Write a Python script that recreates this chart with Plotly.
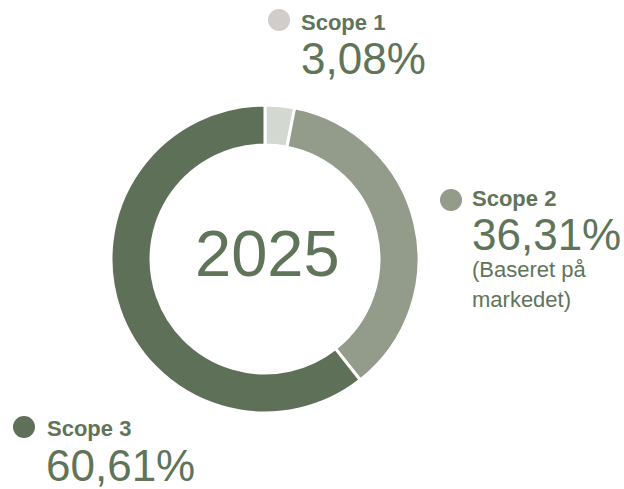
import plotly.graph_objects as go

W, H = 624, 489

labels = ["Scope 1", "Scope 2", "Scope 3"]
values = [3.08, 36.31, 60.61]
pct_text = ["3,08%", "36,31%", "60,61%"]
slice_colors = ["#d3d8d0", "#939b8b", "#5f7058"]
dot_colors = ["#d0cdcb", "#939b8b", "#5f7058"]
center_text = "2025"
note_lines = ["(Baseret på", "markedet)"]

TXT = "#5f7459"
FONT = "Arial, Liberation Sans, sans-serif"

cx, cy, R = 265, 259, 154

def px(x):
    return x / W

def py(y):
    return 1 - y / H

fig = go.Figure(go.Pie(
    labels=labels, values=values, sort=False, direction="clockwise", rotation=0,
    hole=0.74, textinfo="none", hoverinfo="label+percent",
    marker=dict(colors=slice_colors, line=dict(color="white", width=3)),
    domain=dict(x=[px(cx - R), px(cx + R)], y=[py(cy + R), py(cy - R)]),
    showlegend=False,
))

label_pos = [
    dict(dot=(279, 20), name=(299, 22), pct=(299, 58)),
    dict(dot=(451, 200), name=(470, 199), pct=(470, 235)),
    dict(dot=(24, 427), name=(45, 428), pct=(44, 465)),
]

ann = []
shapes = []
for i, p in enumerate(label_pos):
    dx, dy = p["dot"]
    r = 11
    shapes.append(dict(type="circle", xref="paper", yref="paper",
                       x0=px(dx - r), x1=px(dx + r), y0=py(dy + r), y1=py(dy - r),
                       fillcolor=dot_colors[i], line=dict(width=0)))
    ann.append(dict(x=px(p["name"][0]), y=py(p["name"][1]), xref="paper", yref="paper",
                    xanchor="left", yanchor="middle", showarrow=False,
                    text="<b>" + labels[i] + "</b>",
                    font=dict(family=FONT, size=22, color=TXT)))
    ann.append(dict(x=px(p["pct"][0]), y=py(p["pct"][1]), xref="paper", yref="paper",
                    xanchor="left", yanchor="middle", showarrow=False,
                    text=pct_text[i],
                    font=dict(family=FONT, size=44, color=TXT)))

for j, ly in enumerate([269, 299]):
    ann.append(dict(x=px(470), y=py(ly), xref="paper", yref="paper",
                    xanchor="left", yanchor="middle", showarrow=False,
                    text=note_lines[j],
                    font=dict(family=FONT, size=22, color=TXT)))

ann.append(dict(x=px(cx + 2), y=py(253), xref="paper", yref="paper",
                xanchor="center", yanchor="middle", showarrow=False,
                text=center_text, font=dict(family=FONT, size=65, color=TXT)))

fig.update_layout(
    width=W, height=H, margin=dict(l=0, r=0, t=0, b=0),
    paper_bgcolor="white", plot_bgcolor="white",
    annotations=ann, shapes=shapes,
)

fig.write_html("out.html", config={"displayModeBar": False},
               post_script="document.body.style.margin='0';")
